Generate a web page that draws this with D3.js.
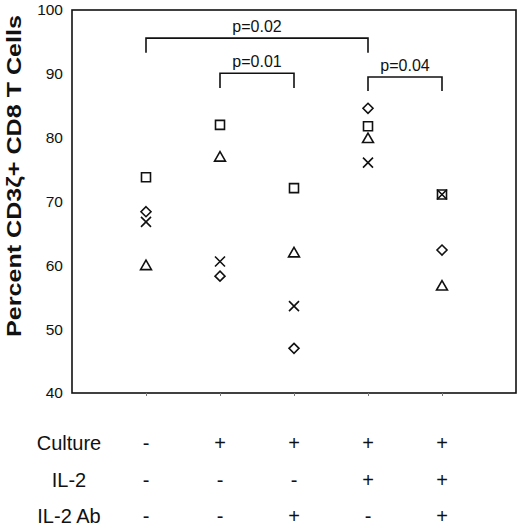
<!DOCTYPE html>
<html>
<head>
<meta charset="utf-8">
<script src="https://cdn.jsdelivr.net/npm/d3@7"></script>
<style>
  body { margin: 0; background: #fff; }
  svg { display: block; font-family: "Liberation Sans", Arial, sans-serif; }
</style>
</head>
<body>
<svg id="chart" width="520" height="528"></svg>
<script>
// groups (columns) and the treatment table under the plot
const groups = ["g1", "g2", "g3", "g4", "g5"];
const cultureRow = ["-", "+", "+", "+", "+"];
const il2Row = ["-", "-", "-", "+", "+"];
const il2AbRow = ["-", "-", "+", "-", "+"];
const rowLabels = ["Culture", "IL-2", "IL-2 Ab"];

// one value per donor per group
const squareVals = [73.8, 82.0, 72.1, 81.8, 71.1];
const triangleVals = [60.0, 77.0, 62.0, 79.9, 56.8];
const crossVals = [66.8, 60.6, 53.6, 76.1, 71.1];
const diamondVals = [68.4, 58.3, 47.0, 84.6, 62.4];

const yTicks = [40, 50, 60, 70, 80, 90, 100];

// significance brackets: columns joined, bar level and leg end (in %)
const pFrom = [0, 1, 3];
const pTo = [3, 2, 4];
const pLabels = ["p=0.02", "p=0.01", "p=0.04"];
const pBar = [95.6, 90.1, 89.5];
const pLeg = [93.3, 87.8, 87.3];

const svg = d3.select("#chart");
const box = {left: 72, top: 10, right: 516, bottom: 393};

const x = d3.scalePoint().domain(groups).range([box.left, box.right]).padding(1);
const y = d3.scaleLinear().domain([40, 100]).range([box.bottom, box.top]);

// frame
svg.append("rect")
  .attr("x", box.left).attr("y", box.top)
  .attr("width", box.right - box.left).attr("height", box.bottom - box.top)
  .attr("fill", "none").attr("stroke", "#111").attr("stroke-width", 1.6);

// y axis labels
const yAxis = svg.append("g")
  .attr("transform", `translate(${box.left},0)`)
  .call(d3.axisLeft(y).tickValues(yTicks).tickSize(0).tickPadding(9));
yAxis.select(".domain").remove();
yAxis.selectAll("text")
  .attr("font-size", 15.5).attr("fill", "#111")
  .attr("font-family", "'Liberation Sans', Arial, sans-serif");

// tiny ticks under the frame
const xAxis = svg.append("g")
  .attr("transform", `translate(0,${box.bottom})`)
  .call(d3.axisBottom(x).tickSize(3).tickFormat(""));
xAxis.select(".domain").remove();
xAxis.selectAll("line").attr("stroke", "#777");

// y title
svg.append("text")
  .attr("transform", `translate(21,${(15 + 337) / 2}) rotate(-90)`)
  .attr("text-anchor", "middle")
  .attr("font-weight", "bold").attr("font-size", 20).attr("fill", "#111")
  .attr("textLength", 322).attr("lengthAdjust", "spacingAndGlyphs")
  .text("Percent CD3ζ+ CD8 T Cells");

// stroke-only marker shapes
const squareShape = {draw(c, s) { const r = Math.sqrt(s) / 2; c.rect(-r, -r, 2 * r, 2 * r); }};
const triangleShape = {draw(c, s) {
  const h = Math.sqrt(s), w = h * 1.15;
  c.moveTo(0, -h * 0.55); c.lineTo(w / 2, h * 0.45); c.lineTo(-w / 2, h * 0.45); c.closePath();
}};
const diamondShape = {draw(c, s) {
  const r = Math.sqrt(s) / 2;
  c.moveTo(0, -r); c.lineTo(r, 0); c.lineTo(0, r); c.lineTo(-r, 0); c.closePath();
}};
const crossShape = {draw(c, s) {
  const r = Math.sqrt(s) / 2;
  c.moveTo(-r, -r); c.lineTo(r, r); c.moveTo(r, -r); c.lineTo(-r, r);
}};

const series = [
  {vals: squareVals, type: squareShape, size: 81},
  {vals: triangleVals, type: triangleShape, size: 90},
  {vals: crossVals, type: crossShape, size: 100},
  {vals: diamondVals, type: diamondShape, size: 100}
];

series.forEach(s => {
  svg.append("g").selectAll("path")
    .data(s.vals)
    .join("path")
    .attr("transform", (d, i) => `translate(${x(groups[i])},${y(d)})`)
    .attr("d", d3.symbol().type(s.type).size(s.size))
    .attr("fill", "none").attr("stroke", "#111").attr("stroke-width", 1.6);
});

// brackets
pLabels.forEach((lab, i) => {
  const x1 = x(groups[pFrom[i]]), x2 = x(groups[pTo[i]]);
  const yb = y(pBar[i]), yl = y(pLeg[i]);
  svg.append("path")
    .attr("d", `M${x1},${yl}V${yb}H${x2}V${yl}`)
    .attr("fill", "none").attr("stroke", "#111").attr("stroke-width", 1.6);
  svg.append("text")
    .attr("x", (x1 + x2) / 2).attr("y", yb - 6)
    .attr("text-anchor", "middle").attr("font-size", 16).attr("fill", "#111")
    .text(lab);
});

// treatment table
const rows = [cultureRow, il2Row, il2AbRow];
const rowBase = [450, 487, 523];
rows.forEach((row, r) => {
  svg.append("text")
    .attr("x", 69).attr("y", rowBase[r])
    .attr("text-anchor", "middle").attr("font-size", 20).attr("fill", "#111")
    .text(rowLabels[r]);
  svg.append("g").selectAll("text")
    .data(row)
    .join("text")
    .attr("x", (d, i) => x(groups[i]))
    .attr("y", rowBase[r])
    .attr("text-anchor", "middle").attr("font-size", 20).attr("fill", "#111")
    .text(d => d);
});
</script>
</body>
</html>
